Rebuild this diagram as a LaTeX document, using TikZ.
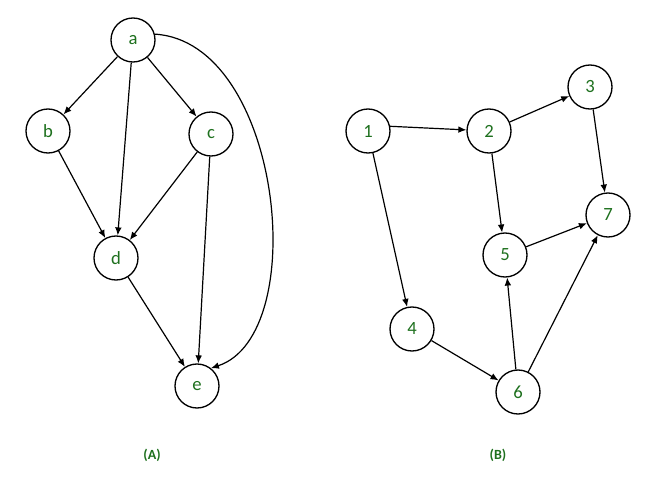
\documentclass[tikz,border=0pt]{standalone}
\usepackage{fontspec}
\setmainfont{Carlito}
\usetikzlibrary{arrows.meta}
\definecolor{lblgreen}{HTML}{1E701E}
\begin{document}
\begin{tikzpicture}[x=0.75pt,y=-0.75pt,
  vtx/.style={circle,draw=black,line width=1pt,minimum size=33pt,inner sep=0pt,
    text=lblgreen,font=\fontsize{14}{16}\selectfont},
  edge/.style={line width=0.9pt,-{Latex[length=6pt,width=5pt]}},
  caplabel/.style={text=lblgreen,font=\bfseries\fontsize{10.5}{12}\selectfont}]
\useasboundingbox (0,0) rectangle (660,478);
% graph A
\node[vtx] (a) at (133,40) {a};
\node[vtx] (b) at (48,131) {b};
\node[vtx] (c) at (211,134) {c};
\node[vtx] (d) at (116,258) {d};
\node[vtx] (e) at (197,386) {e};
\draw[edge] (a) -- (b);
\draw[edge] (a) -- (d);
\draw[edge] (a) -- (c);
\draw[edge] (b) -- (d);
\draw[edge] (c) -- (d);
\draw[edge] (c) -- (e);
\draw[edge] (d) -- (e);
\draw[edge] (a.15) .. controls (282,42) and (312,335) .. (e.52);
% graph B
\node[vtx] (n1) at (368,131) {1};
\node[vtx] (n2) at (489,131) {2};
\node[vtx] (n3) at (590,87) {3};
\node[vtx] (n4) at (412,329) {4};
\node[vtx] (n5) at (505,255) {5};
\node[vtx] (n6) at (518,392) {6};
\node[vtx] (n7) at (608,215) {7};
\draw[edge] (n1.12) -- (n2);
\draw[edge] (n1) -- (n4);
\draw[edge] (n2) -- (n3);
\draw[edge] (n2) -- (n5);
\draw[edge] (n3) -- (n7);
\draw[edge] (n5) -- (n7);
\draw[edge] (n6) -- (n5);
\draw[edge] (n6) -- (n7);
\draw[edge] (n4) -- (n6);
% captions
\node[caplabel] (capA) at (152,455) {(A)};
\node[caplabel] (capB) at (498,455) {(B)};
\end{tikzpicture}
\end{document}
